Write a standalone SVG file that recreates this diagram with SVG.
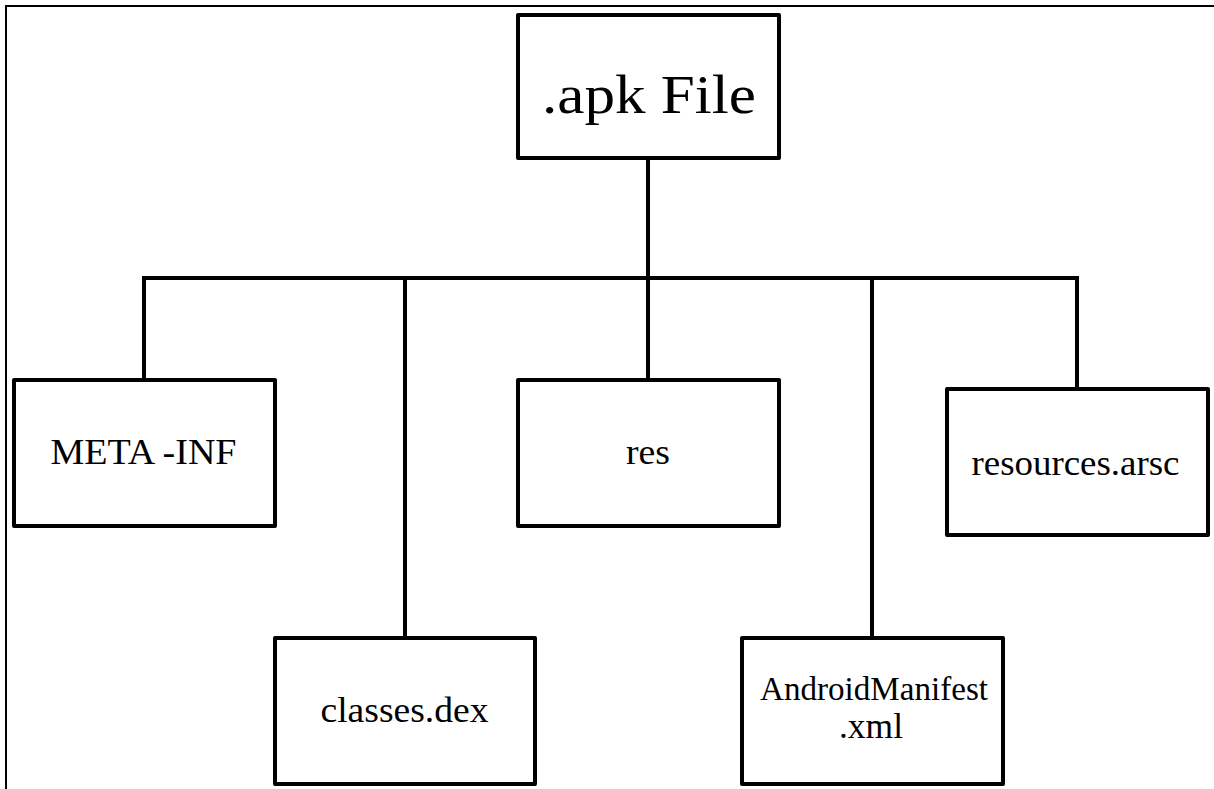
<svg xmlns="http://www.w3.org/2000/svg" width="1214" height="789" viewBox="0 0 1214 789">
<style>
.box{fill:#fff;stroke:#000;stroke-width:4;stroke-linejoin:round}
.wire{fill:none;stroke:#000;stroke-width:4}
text{font-family:'Liberation Serif','Times New Roman',serif;font-size:36px;fill:#000;text-anchor:middle}
</style>
<rect width="1214" height="789" fill="#fff"/>
<g id="frame">
<path d="M6 789 V6 H1214" fill="none" stroke="#000" stroke-width="2"/>
</g>
<g id="connectors">
<path class="wire" d="M648 158 V278"/>
<path class="wire" d="M144 278 H1077"/>
<path class="wire" d="M144 276 V380"/>
<path class="wire" d="M405 278 V638"/>
<path class="wire" d="M648 278 V380"/>
<path class="wire" d="M872 278 V638"/>
<path class="wire" d="M1077 276 V389"/>
</g>
<g id="apk">
<rect class="box" x="518" y="15" width="261" height="143"/>
<text x="649" y="113" style="font-size:55px" textLength="214" lengthAdjust="spacingAndGlyphs">.apk File</text>
</g>
<g id="meta-inf">
<rect class="box" x="14" y="380" width="261" height="146"/>
<text x="143.5" y="464" textLength="186" lengthAdjust="spacingAndGlyphs">META -INF</text>
</g>
<g id="res">
<rect class="box" x="518" y="380" width="261" height="146"/>
<text x="648" y="464" textLength="44" lengthAdjust="spacingAndGlyphs">res</text>
</g>
<g id="resources-arsc">
<rect class="box" x="947" y="389" width="261" height="146"/>
<text x="1075.5" y="475" textLength="208" lengthAdjust="spacingAndGlyphs">resources.arsc</text>
</g>
<g id="classes-dex">
<rect class="box" x="275" y="638" width="260" height="146"/>
<text x="404.5" y="722" textLength="168" lengthAdjust="spacingAndGlyphs">classes.dex</text>
</g>
<g id="android-manifest">
<rect class="box" x="742" y="638" width="261" height="146"/>
<text x="874" y="700" style="font-size:34px" textLength="228" lengthAdjust="spacingAndGlyphs">AndroidManifest</text>
<text x="871" y="738" style="font-size:35px" textLength="64" lengthAdjust="spacingAndGlyphs">.xml</text>
</g>
</svg>
